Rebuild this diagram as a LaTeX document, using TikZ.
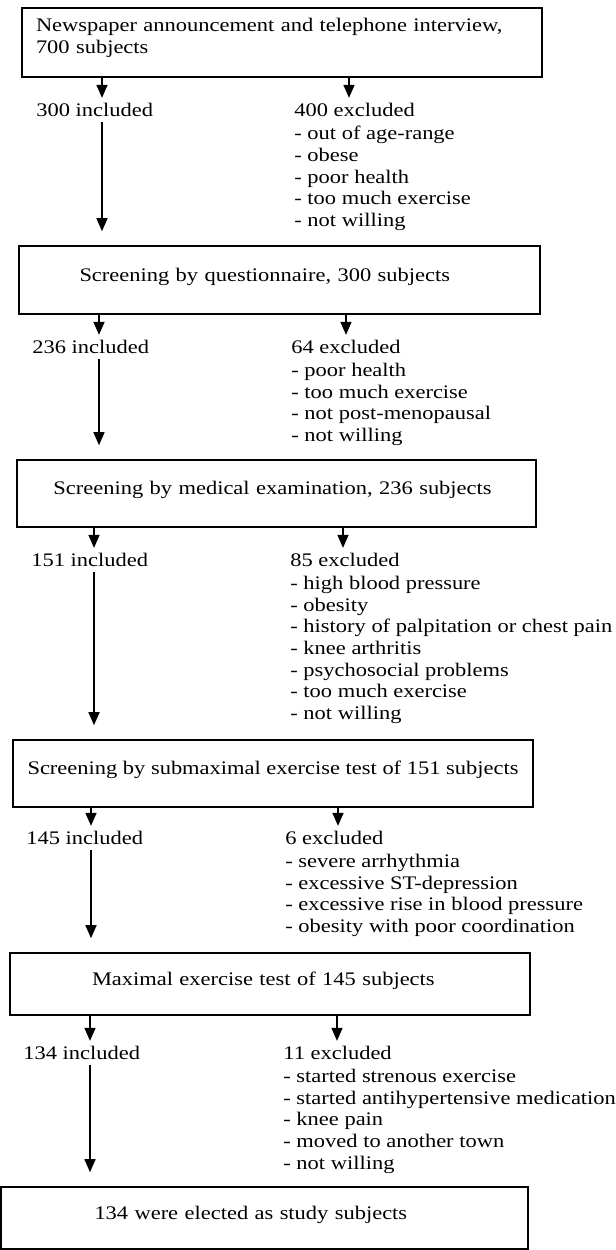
\documentclass[tikz,border=0pt]{standalone}
\usepackage{fontspec}
\setmainfont{Liberation Serif}[FakeStretch=1.17]
\usepackage{tikz}
\usetikzlibrary{arrows.meta,positioning}

\begin{document}
\begin{tikzpicture}[x=0.5pt,y=-0.5pt,
    every node/.style={font=\fontsize{9.6}{10.8}\selectfont},
    stagebox/.style={draw,line width=0.8pt,minimum width=260pt,minimum height=33.5pt,
      text height=7pt,text depth=6pt,align=left},
    tally/.style={anchor=west,inner sep=2.5pt},
    reasons/.style={anchor=north west,align=left,inner xsep=2.5pt,inner ysep=0pt},
    flow/.style={-{Triangle[width=5.5pt,length=6.5pt]},line width=0.75pt},
    longflow/.style={flow,shorten >=7pt}]
          \useasboundingbox (0,0) rectangle (616,1250);
          %\draw[very thin,lightgray,step=50pt] (0,0) grid (616,1250);
          \node[stagebox,minimum height=34.5pt,text width=246pt,text depth=18pt]
            (s1) at (282,42.5) {Newspaper announcement and telephone interview,\\700 subjects};
          \node[stagebox,minimum width=260.5pt,minimum height=34pt,text width=200pt] (s2)
            at (279.5,280) {Screening by questionnaire, 300 subjects};
          \node[stagebox,minimum width=259.5pt,text width=223pt] (s3) at (276.5,493.5)
            {Screening by medical examination, 236 subjects};
          \node[stagebox] (s4) at (273,773.5)
            {Screening by submaximal exercise test of 151 subjects};
          \node[stagebox,minimum height=31pt,text width=178pt] (s5) at (270,984)
            {Maximal exercise test of 145 subjects};
          \node[stagebox,minimum width=263.5pt,minimum height=31pt,text width=170pt] (s6)
            at (264.5,1218) {134 were elected as study subjects};
          % first screening
          \node[tally] (in1) at (31,110) {300 included};
          \node[tally] (out1) at (289,110) {400 excluded};
          \node[below=1.9pt of out1.south west,reasons] (why1) {- out of age-range\\- obese\\
            - poor health\\- too much exercise\\- not willing};
          \draw[flow] (s1.south -| 102,0) -- (in1.north -| 102,0);
          \draw[flow] (s1.south -| 349,0) -- (out1.north -| 349,0);
          \draw[longflow] (in1.south -| 102,0) -- (s2.north -| 102,0);
          % questionnaire
          \node[tally] (in2) at (27,347) {236 included};
          \node[tally] (out2) at (286,347) {64 excluded};
          \node[below=1.9pt of out2.south west,reasons] (why2) {- poor health\\
            - too much exercise\\- not post-menopausal\\- not willing};
          \draw[flow] (s2.south -| 99,0) -- (in2.north -| 99,0);
          \draw[flow] (s2.south -| 346,0) -- (out2.north -| 346,0);
          \draw[longflow] (in2.south -| 99,0) -- (s3.north -| 99,0);
          % medical examination
          \node[tally] (in3) at (26,560) {151 included};
          \node[tally] (out3) at (285,560) {85 excluded};
          \node[below=1.9pt of out3.south west,reasons] (why3) {- high blood pressure\\
            - obesity\\- history of palpitation or chest pain\\- knee arthritis\\
            - psychosocial problems\\- too much exercise\\- not willing};
          \draw[flow] (s3.south -| 94,0) -- (in3.north -| 94,0);
          \draw[flow] (s3.south -| 343,0) -- (out3.north -| 343,0);
          \draw[longflow] (in3.south -| 94,0) -- (s4.north -| 94,0);
          % submaximal test
          \node[tally] (in4) at (21,838) {145 included};
          \node[tally] (out4) at (280,838) {6 excluded};
          \node[below=1.9pt of out4.south west,reasons] (why4) {- severe arrhythmia\\
            - excessive ST-depression\\- excessive rise in blood pressure\\
            - obesity with poor coordination};
          \draw[flow] (s4.south -| 91,0) -- (in4.north -| 91,0);
          \draw[flow] (s4.south -| 338,0) -- (out4.north -| 338,0);
          \draw[longflow] (in4.south -| 91,0) -- (s5.north -| 91,0);
          % maximal test
          \node[tally] (in5) at (18,1053) {134 included};
          \node[tally] (out5) at (278,1053) {11 excluded};
          \node[below=1.9pt of out5.south west,reasons] (why5) {- started strenous exercise\\
            - started antihypertensive medication\\- knee pain\\- moved to another town\\
            - not willing};
          \draw[flow] (s5.south -| 90,0) -- (in5.north -| 90,0);
          \draw[flow] (s5.south -| 337,0) -- (out5.north -| 337,0);
          \draw[longflow] (in5.south -| 90,0) -- (s6.north -| 90,0);
\end{tikzpicture}
\end{document}
